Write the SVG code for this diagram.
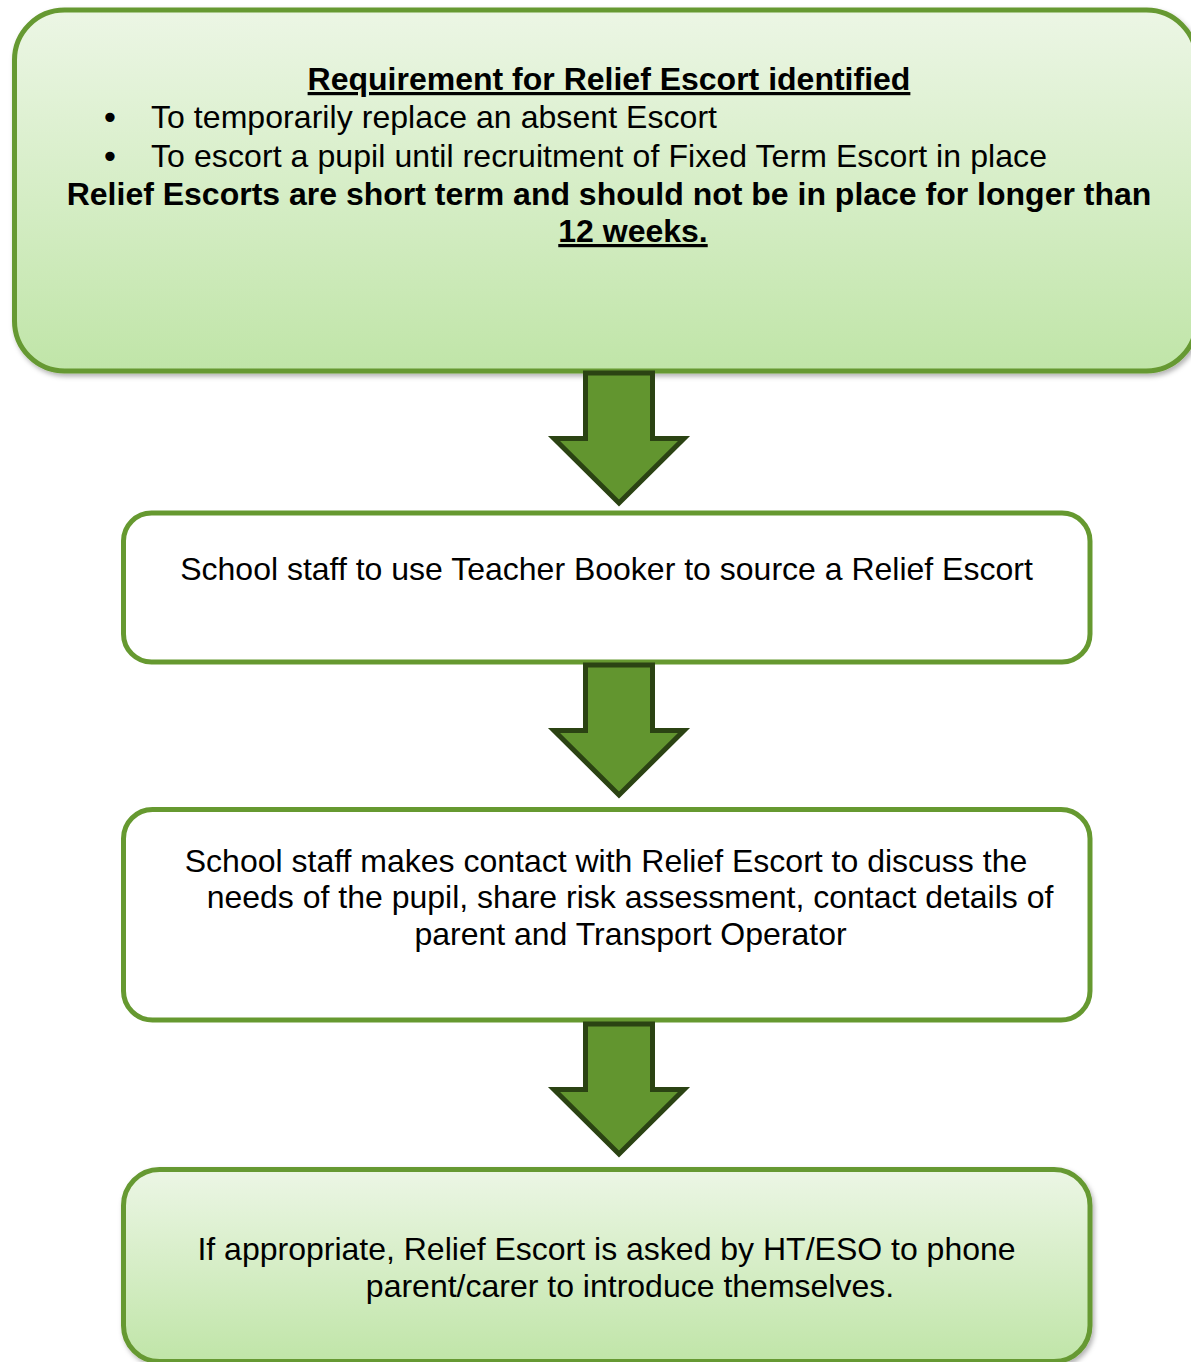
<svg xmlns="http://www.w3.org/2000/svg" width="1191" height="1362" viewBox="0 0 1191 1362">
<style>
.t{font-family:"Liberation Sans",Arial,sans-serif;font-size:32px;fill:#000}
.bl{font-family:"DejaVu Sans",sans-serif;font-size:32px;fill:#000}
.b{font-weight:bold}
.u{text-decoration:underline}
.box{stroke:#669930;stroke-width:5}
.arrow{fill:#62952F;stroke:#2B4313;stroke-width:5;stroke-linejoin:miter;stroke-miterlimit:10}
</style>
<defs>
<linearGradient id="g" x1="0" y1="0" x2="0" y2="1">
<stop offset="0" stop-color="#ECF6E5"/>
<stop offset="1" stop-color="#C0E5A8"/>
</linearGradient>
<filter id="sh" x="-5%" y="-5%" width="110%" height="115%">
<feDropShadow dx="2" dy="3" stdDeviation="2.5" flood-color="#000" flood-opacity="0.3"/>
</filter>
<polygon id="arr" points="585.5,373 652.5,373 652.5,438.5 684,438.5 619,503 554,438.5 585.5,438.5"/>
</defs>

<g id="node1">
<rect class="box" x="14.5" y="10" width="1182" height="361" rx="50" ry="50" fill="url(#g)" filter="url(#sh)"/>
<text class="t b" x="609" y="90" text-anchor="middle"><tspan class="u">Requirement for Relief Escort identified</tspan></text>
<text class="bl" x="110" y="129" text-anchor="middle">•</text>
<text class="t" x="151" y="128" textLength="566" lengthAdjust="spacing">To temporarily replace an absent Escort</text>
<text class="bl" x="110" y="168" text-anchor="middle">•</text>
<text class="t" x="151" y="167" textLength="896" lengthAdjust="spacing">To escort a pupil until recruitment of Fixed Term Escort in place</text>
<text class="t b" x="609" y="205" text-anchor="middle">Relief Escorts are short term and should not be in place for longer than</text>
<text class="t b" x="633" y="242" text-anchor="middle"><tspan class="u">12 weeks.</tspan></text>
</g>

<g id="node2">
<rect class="box" x="123.5" y="513" width="966.5" height="149" rx="28" ry="28" fill="#fff"/>
<text class="t" x="606.5" y="580" text-anchor="middle">School staff to use Teacher Booker to source a Relief Escort</text>
</g>

<g id="node3">
<rect class="box" x="123.5" y="809.5" width="966.5" height="210.5" rx="29" ry="29" fill="#fff"/>
<text class="t" x="606" y="872" text-anchor="middle">School staff makes contact with Relief Escort to discuss the</text>
<text class="t" x="630" y="908" text-anchor="middle">needs of the pupil, share risk assessment, contact details of</text>
<text class="t" x="630.5" y="945" text-anchor="middle">parent and Transport Operator</text>
</g>

<g id="node4">
<rect class="box" x="123.5" y="1169.5" width="966.5" height="192" rx="36" ry="36" fill="url(#g)" filter="url(#sh)"/>
<text class="t" x="606.5" y="1260" text-anchor="middle">If appropriate, Relief Escort is asked by HT/ESO to phone</text>
<text class="t" x="630" y="1297" text-anchor="middle">parent/carer to introduce themselves.</text>
</g>

<g id="connectors">
<use href="#arr" class="arrow"/>
<use href="#arr" class="arrow" transform="translate(0,292)"/>
<use href="#arr" class="arrow" transform="translate(0,651)"/>
</g>
</svg>
